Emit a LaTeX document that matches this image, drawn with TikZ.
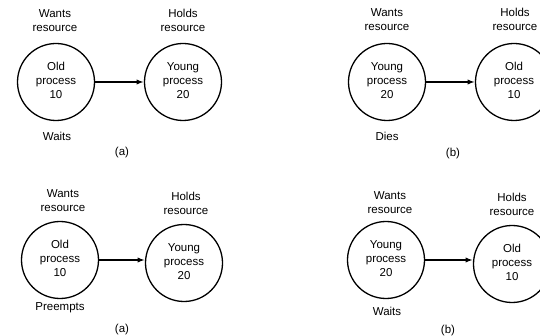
\documentclass[tikz,border=0pt]{standalone}
\usepackage{fontspec}
\setmainfont{Liberation Sans}
\newcommand{\procnode}[2]{%
  \begin{tabular}{@{}c@{}}
    #1\\ process\\ #2
  \end{tabular}
}
\newcommand{\twoline}[2]{%
  \begin{tabular}{@{}c@{}}
    #1\\ #2
  \end{tabular}
}

\begin{document}
\begin{tikzpicture}[
      x=1pt, y=-1pt,
      every node/.style={inner sep=0pt,font=\fontsize{11.5}{14}\selectfont},
      proc/.style={draw,circle,line width=1.3pt,minimum size=77pt},
      wait/.style={-latex,line width=1.3pt,shorten >=0.5pt}
    ]
      \useasboundingbox (0,0) rectangle (540,336);
      % top left
      \node[proc] (old1) at (56,82) {\procnode{Old}{10}};
      \node[proc] (young1) at (183,82) {\procnode{Young}{20}};
      \node (wants1) at (55,22) {\twoline{Wants}{resource}};
      \node (holds1) at (183,22) {\twoline{Holds}{resource}};
      \node (waits1) at (57,136) {Waits};
      \node (capa1) at (122,153) {(a)};
      \draw[wait] (old1) -- (young1);
      % top right
      \node[proc] (young2) at (387,82) {\procnode{Young}{20}};
      \node[proc] (old2) at (514,82) {\procnode{Old}{10}};
      \node (wants2) at (387,21) {\twoline{Wants}{resource}};
      \node (holds2) at (515,21) {\twoline{Holds}{resource}};
      \node (dies2) at (387,136) {Dies};
      \node (capb2) at (453,154) {(b)};
      \draw[wait] (young2) -- (old2);
      % bottom left
      \node[proc] (old3) at (60,260) {\procnode{Old}{10}};
      \node[proc] (young3) at (184,263) {\procnode{Young}{20}};
      \node (wants3) at (63,202) {\twoline{Wants}{resource}};
      \node (holds3) at (186,205) {\twoline{Holds}{resource}};
      \node (preempts3) at (60,308) {Preempts};
      \node (capa3) at (122,330) {(a)};
      \draw[wait] (old3.east) -- (old3.east -| young3.west);
      % bottom right
      \node[proc] (young4) at (386,260) {\procnode{Young}{20}};
      \node[proc] (old4) at (512,264) {\procnode{Old}{10}};
      \node (wants4) at (390,204) {\twoline{Wants}{resource}};
      \node (holds4) at (512,206) {\twoline{Holds}{resource}};
      \node (waits4) at (387,311) {Waits};
      \node (capb4) at (448,331) {(b)};
      \draw[wait] (young4.east) -- (young4.east -| old4.west);
\end{tikzpicture}
\end{document}
